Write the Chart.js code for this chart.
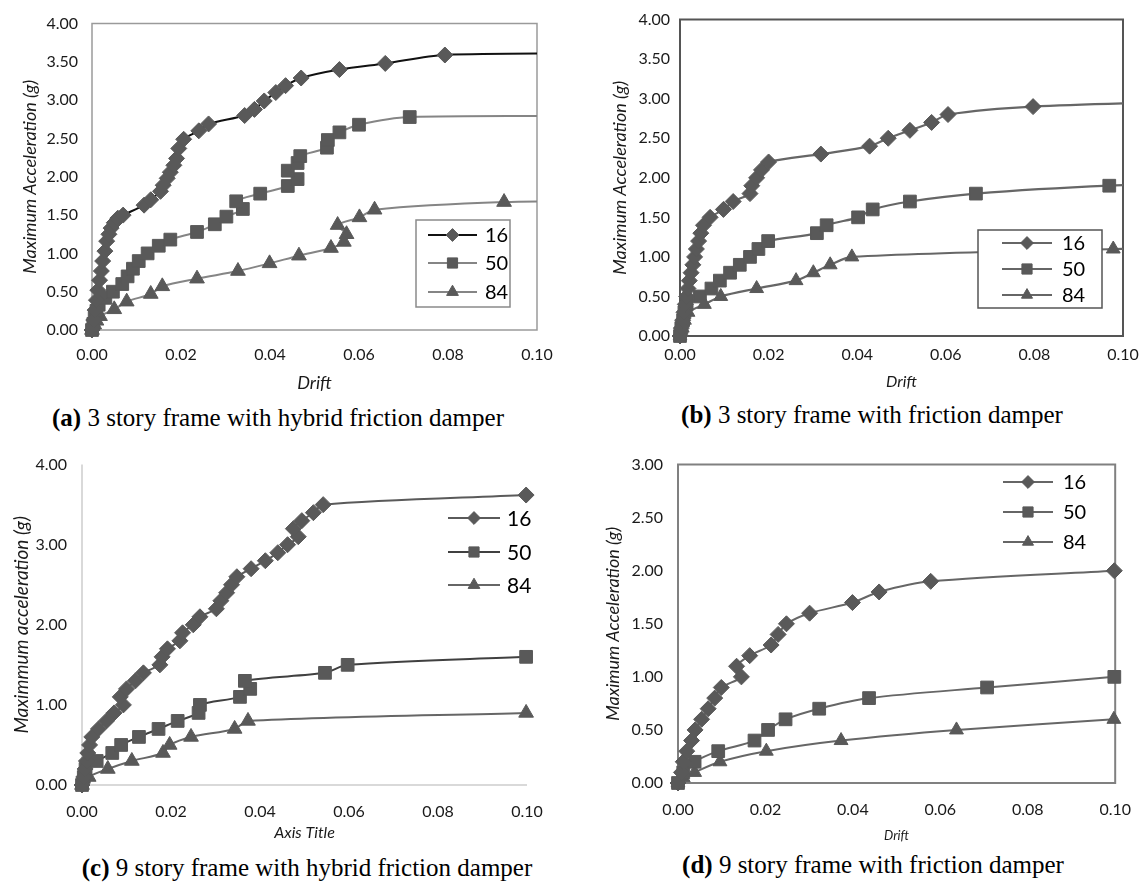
<!DOCTYPE html>
<html>
<head>
<meta charset="utf-8">
<title>Maximum acceleration vs drift</title>
<script src="https://cdn.jsdelivr.net/npm/chart.js@4.4.1/dist/chart.umd.min.js"></script>
<style>
  body { margin: 0; background: #fff; width: 1148px; height: 882px; position: relative; overflow: hidden; }
  canvas { position: absolute; }
  .cap { position: absolute; transform: translate(-50%, -50%); white-space: nowrap;
         font-family: "Liberation Serif", "Times New Roman", serif; font-size: 25px; color: #000; }
</style>
</head>
<body>
<canvas id="ca" width="575" height="398" style="left:0;top:0"></canvas>
<canvas id="cb" width="573" height="398" style="left:575px;top:0"></canvas>
<canvas id="cc" width="575" height="405" style="left:0;top:440px"></canvas>
<canvas id="cd" width="573" height="405" style="left:575px;top:440px"></canvas>

<div class="cap" style="left:278px;top:418px"><b>(a)</b> 3 story frame with hybrid friction damper</div>
<div class="cap" style="left:872px;top:415px"><b>(b)</b> 3 story frame with friction damper</div>
<div class="cap" style="left:307px;top:868px"><b>(c)</b> 9 story frame with hybrid friction damper</div>
<div class="cap" style="left:873px;top:865px"><b>(d)</b> 9 story frame with friction damper</div>

<script>
// series names and tick values
const seriesNames = ['16', '50', '84'];
const driftTicks = [0, 0.02, 0.04, 0.06, 0.08, 0.10];
const accTicks4 = [0, 0.5, 1.0, 1.5, 2.0, 2.5, 3.0, 3.5, 4.0];
const accTicksC = [0, 1, 2, 3, 4];
const accTicks3 = [0, 0.5, 1.0, 1.5, 2.0, 2.5, 3.0];

// (a) 3 story frame with hybrid friction damper
const driftA16 = [0, 0.0004, 0.0007, 0.0010, 0.0013, 0.0017, 0.0021, 0.0024, 0.0029, 0.0033, 0.0038, 0.0043, 0.0050, 0.0058, 0.0070, 0.0117, 0.0132, 0.0154, 0.0160, 0.0169, 0.0176, 0.0184, 0.0190, 0.0195, 0.0206, 0.0240, 0.0262, 0.0343, 0.0365, 0.0387, 0.0413, 0.0435, 0.0470, 0.0556, 0.0659, 0.0793, 0.1200];
const accA16   = [0, 0.13, 0.26, 0.39, 0.52, 0.65, 0.77, 0.90, 1.03, 1.16, 1.25, 1.33, 1.40, 1.46, 1.50, 1.63, 1.70, 1.81, 1.89, 1.98, 2.06, 2.15, 2.24, 2.37, 2.49, 2.60, 2.69, 2.80, 2.88, 2.99, 3.10, 3.19, 3.29, 3.40, 3.48, 3.59, 3.61];
const driftA50 = [0, 0.0003, 0.0006, 0.0010, 0.0015, 0.0030, 0.0047, 0.0068, 0.0080, 0.0092, 0.0105, 0.0125, 0.0150, 0.0176, 0.0236, 0.0276, 0.0302, 0.0339, 0.0324, 0.0378, 0.0440, 0.0462, 0.0440, 0.0462, 0.0468, 0.0528, 0.0530, 0.0556, 0.0600, 0.0714, 0.1200];
const accA50   = [0, 0.08, 0.16, 0.25, 0.33, 0.42, 0.50, 0.60, 0.70, 0.80, 0.90, 1.00, 1.10, 1.18, 1.28, 1.38, 1.48, 1.58, 1.68, 1.78, 1.88, 1.97, 2.08, 2.18, 2.27, 2.38, 2.48, 2.58, 2.68, 2.78, 2.79];
const driftA84 = [0, 0.0005, 0.0010, 0.0018, 0.0050, 0.0078, 0.0132, 0.0158, 0.0236, 0.0328, 0.0399, 0.0465, 0.0537, 0.0566, 0.0572, 0.0552, 0.0601, 0.0635, 0.0926, 0.1200];
const accA84   = [0, 0.07, 0.12, 0.18, 0.27, 0.37, 0.47, 0.57, 0.67, 0.77, 0.87, 0.97, 1.07, 1.15, 1.25, 1.37, 1.47, 1.57, 1.67, 1.68];

// (b) 3 story frame with friction damper
const driftB16 = [0, 0.0003, 0.0006, 0.0009, 0.0012, 0.0015, 0.0018, 0.0021, 0.0025, 0.0029, 0.0033, 0.0037, 0.0042, 0.0047, 0.0053, 0.0068, 0.0098, 0.0120, 0.0158, 0.0162, 0.0173, 0.0184, 0.0200, 0.0318, 0.0428, 0.0470, 0.0519, 0.0568, 0.0605, 0.0797, 0.1200];
const accB16   = [0, 0.1, 0.2, 0.3, 0.4, 0.5, 0.6, 0.7, 0.8, 0.9, 1.0, 1.1, 1.2, 1.3, 1.4, 1.5, 1.6, 1.7, 1.8, 1.9, 2.0, 2.1, 2.2, 2.3, 2.4, 2.5, 2.6, 2.7, 2.8, 2.9, 2.97];
const driftB50 = [0, 0.0003, 0.0007, 0.0010, 0.0015, 0.0045, 0.0071, 0.0090, 0.0113, 0.0135, 0.0158, 0.0177, 0.0199, 0.0309, 0.0331, 0.0402, 0.0435, 0.0519, 0.0668, 0.0969, 0.1200];
const accB50   = [0, 0.1, 0.2, 0.3, 0.4, 0.5, 0.6, 0.7, 0.8, 0.9, 1.0, 1.1, 1.2, 1.3, 1.4, 1.5, 1.6, 1.7, 1.8, 1.9, 1.93];
const driftB84 = [0, 0.0005, 0.0010, 0.0018, 0.0055, 0.0092, 0.0173, 0.0262, 0.0301, 0.0339, 0.0388, 0.0978, 0.1200];
const accB84   = [0, 0.1, 0.2, 0.3, 0.4, 0.5, 0.6, 0.7, 0.8, 0.9, 1.0, 1.1, 1.12];

// (c) 9 story frame with hybrid friction damper
const driftC16 = [0, 0.0004, 0.0007, 0.0010, 0.0013, 0.0017, 0.0022, 0.0037, 0.0055, 0.0072, 0.0093, 0.0086, 0.0100, 0.0120, 0.0138, 0.0175, 0.0180, 0.0192, 0.0220, 0.0226, 0.0250, 0.0265, 0.0302, 0.0312, 0.0325, 0.0336, 0.0348, 0.0380, 0.0412, 0.0440, 0.0462, 0.0486, 0.0475, 0.0494, 0.0520, 0.0542, 0.0998];
const accC16   = [0, 0.1, 0.2, 0.3, 0.4, 0.5, 0.6, 0.7, 0.8, 0.9, 1.0, 1.1, 1.2, 1.3, 1.4, 1.5, 1.6, 1.7, 1.8, 1.9, 2.0, 2.1, 2.2, 2.3, 2.4, 2.5, 2.6, 2.7, 2.8, 2.9, 3.0, 3.1, 3.2, 3.3, 3.4, 3.5, 3.62];
const driftC50 = [0, 0.0004, 0.0008, 0.0033, 0.0068, 0.0088, 0.0128, 0.0172, 0.0215, 0.0262, 0.0265, 0.0355, 0.0378, 0.0366, 0.0546, 0.0597, 0.0998];
const accC50   = [0, 0.1, 0.2, 0.3, 0.4, 0.5, 0.6, 0.7, 0.8, 0.9, 1.0, 1.1, 1.2, 1.3, 1.4, 1.5, 1.6];
const driftC84 = [0, 0.0015, 0.0058, 0.0112, 0.0182, 0.0197, 0.0245, 0.0343, 0.0373, 0.0998];
const accC84   = [0, 0.1, 0.2, 0.3, 0.4, 0.5, 0.6, 0.7, 0.8, 0.9];

// (d) 9 story frame with friction damper
const driftD16 = [0, 0.0008, 0.0012, 0.0020, 0.0031, 0.0039, 0.0054, 0.0069, 0.0084, 0.0099, 0.0145, 0.0134, 0.0164, 0.0213, 0.0229, 0.0248, 0.0301, 0.0399, 0.0460, 0.0578, 0.0998];
const accD16   = [0, 0.1, 0.2, 0.3, 0.4, 0.5, 0.6, 0.7, 0.8, 0.9, 1.0, 1.1, 1.2, 1.3, 1.4, 1.5, 1.6, 1.7, 1.8, 1.9, 2.0];
const driftD50 = [0, 0.0012, 0.0038, 0.0092, 0.0175, 0.0206, 0.0246, 0.0323, 0.0437, 0.0707, 0.0998];
const accD50   = [0, 0.1, 0.2, 0.3, 0.4, 0.5, 0.6, 0.7, 0.8, 0.9, 1.0];
const driftD84 = [0, 0.0012, 0.0038, 0.0096, 0.0202, 0.0373, 0.0637, 0.0997];
const accD84   = [0, 0.05, 0.1, 0.2, 0.3, 0.4, 0.5, 0.6];

const FONT = 'Lato, "Open Sans", "DejaVu Sans", sans-serif';
const TXT = '#1a1a1a';
const MARK = '#595959';
const markers = ['rectRot', 'rect', 'triangle'];

function toPoints(xs, ys) {
  return xs.map((x, i) => ({ x: x, y: ys[i] }));
}

// same shapes as Chart.js point styles, for the legend
function drawMarker(ctx, style, r, x, y) {
  ctx.beginPath();
  if (style === 'rectRot') {
    ctx.moveTo(x, y - r); ctx.lineTo(x + r, y); ctx.lineTo(x, y + r); ctx.lineTo(x - r, y);
  } else if (style === 'rect') {
    const s = r * Math.SQRT1_2;
    ctx.rect(x - s, y - s, 2 * s, 2 * s);
  } else {
    const h = r * Math.sqrt(3) / 2;
    ctx.moveTo(x, y - r); ctx.lineTo(x + h, y + r / 2); ctx.lineTo(x - h, y + r / 2);
  }
  ctx.closePath();
  ctx.fill();
  ctx.stroke();
}

// plot frame (box or just the two axes)
const framePlugin = {
  id: 'frame',
  beforeDatasetsDraw(chart, args, o) {
    const { ctx, chartArea: a } = chart;
    ctx.save();
    ctx.strokeStyle = o.color;
    ctx.lineWidth = o.width;
    ctx.beginPath();
    if (o.box) {
      ctx.rect(a.left, a.top, a.right - a.left, a.bottom - a.top);
    } else {
      ctx.moveTo(a.left, a.top);
      ctx.lineTo(a.left, a.bottom);
      ctx.lineTo(a.right, a.bottom);
    }
    ctx.stroke();
    ctx.restore();
  }
};

// legend with line + marker samples, placed inside the plot
const lineLegend = {
  id: 'lineLegend',
  afterDatasetsDraw(chart, args, o) {
    const ctx = chart.ctx;
    ctx.save();
    if (o.box) {
      ctx.fillStyle = '#fff';
      ctx.fillRect(o.x, o.y, o.w, o.h);
      ctx.strokeStyle = o.boxColor;
      ctx.lineWidth = 1.5;
      ctx.strokeRect(o.x, o.y, o.w, o.h);
    }
    chart.data.datasets.forEach((ds, i) => {
      const y = o.rows[i];
      ctx.strokeStyle = ds.borderColor;
      ctx.lineWidth = ds.borderWidth;
      ctx.beginPath();
      ctx.moveTo(o.lineX, y);
      ctx.lineTo(o.lineX + o.lineLen, y);
      ctx.stroke();
      ctx.fillStyle = MARK;
      ctx.strokeStyle = MARK;
      ctx.lineWidth = 1;
      drawMarker(ctx, ds.pointStyle, ds.pointRadius * 0.8, o.lineX + o.lineLen / 2, y);
      ctx.fillStyle = '#000';
      ctx.font = o.fontSize + 'px ' + FONT;
      ctx.textAlign = 'left';
      ctx.textBaseline = 'middle';
      ctx.fillText(ds.label, o.textX, y + 1);
    });
    ctx.restore();
  }
};

function buildChart(p) {
  const datasets = p.series.map((s, i) => ({
    label: seriesNames[i],
    data: toPoints(s[0], s[1]),
    showLine: true,
    tension: 0.3,
    borderColor: p.lineColors[i],
    borderWidth: p.lineWidth,
    pointStyle: markers[i],
    pointRadius: p.radius[i],
    pointHoverRadius: p.radius[i],
    pointBackgroundColor: MARK,
    pointBorderColor: MARK,
    pointBorderWidth: 1,
    clip: p.clip
  }));

  return new Chart(document.getElementById(p.id), {
    type: 'scatter',
    data: { datasets: datasets },
    options: {
      responsive: false,
      animation: false,
      events: [],
      layout: { padding: { top: p.top, right: p.right, left: 0, bottom: 0 } },
      plugins: {
        legend: { display: false },
        tooltip: { enabled: false },
        frame: p.frame,
        lineLegend: p.legend
      },
      scales: {
        x: {
          type: 'linear', min: 0, max: 0.1,
          afterBuildTicks: s => { s.ticks = driftTicks.map(v => ({ value: v })); },
          ticks: { padding: p.xPad, color: TXT, font: { family: FONT, size: 16 },
                   maxRotation: 0, autoSkip: false, callback: v => v.toFixed(2) },
          grid: { display: false, drawTicks: false },
          border: { display: false },
          title: { display: true, text: p.xTitle, color: TXT,
                   font: { family: FONT, size: p.xTitleSize, style: 'italic' },
                   padding: { top: 0, bottom: p.xTitlePad } },
          afterFit: s => { s.height = p.xH; }
        },
        y: {
          type: 'linear', min: 0, max: p.yMax,
          afterBuildTicks: s => { s.ticks = p.yTicks.map(v => ({ value: v })); },
          ticks: { padding: p.yPad, color: TXT, font: { family: FONT, size: 16 },
                   autoSkip: false, callback: v => v.toFixed(2) },
          grid: { display: false, drawTicks: false },
          border: { display: false },
          title: { display: true, text: p.yTitle, color: TXT,
                   font: { family: FONT, size: p.yTitleSize, style: 'italic' },
                   padding: { top: p.yTitlePad, bottom: 0 } },
          afterFit: s => { s.width = p.yW; }
        }
      }
    },
    plugins: [framePlugin, lineLegend]
  });
}

const cutRight = { left: false, top: false, right: 0, bottom: false };

buildChart({
  id: 'ca',
  series: [[driftA16, accA16], [driftA50, accA50], [driftA84, accA84]],
  lineColors: ['#111111', '#858585', '#858585'], lineWidth: 2, radius: [8, 9, 8.5],
  clip: cutRight,
  top: 20, right: 38, yW: 92, xH: 68, xPad: 15, yPad: 14,
  yMax: 4, yTicks: accTicks4,
  yTitle: 'Maximum Acceleration (g)', yTitleSize: 18, yTitlePad: 19,
  xTitle: 'Drift', xTitleSize: 18, xTitlePad: 4,
  frame: { box: true, color: '#9a9a9a', width: 1.5 },
  legend: { box: true, boxColor: '#8a8a8a', x: 416, y: 220, w: 94, h: 87,
            rows: [235, 263, 292], lineX: 428, lineLen: 49, textX: 485, fontSize: 20 }
});

buildChart({
  id: 'cb',
  series: [[driftB16, accB16], [driftB50, accB50], [driftB84, accB84]],
  lineColors: ['#666666', '#666666', '#666666'], lineWidth: 2.2, radius: [8, 9, 8],
  clip: cutRight,
  top: 11, right: 25, yW: 105, xH: 62, xPad: 9, yPad: 10,
  yMax: 4, yTicks: accTicks4,
  yTitle: 'Maximum Acceleration (g)', yTitleSize: 18, yTitlePad: 34,
  xTitle: 'Drift', xTitleSize: 16, xTitlePad: 7,
  frame: { box: true, color: '#555555', width: 2 },
  legend: { box: true, boxColor: '#555555', x: 403, y: 230, w: 124, h: 78,
            rows: [243, 269, 295], lineX: 427, lineLen: 50, textX: 487, fontSize: 20 }
});

buildChart({
  id: 'cc',
  series: [[driftC16, accC16], [driftC50, accC50], [driftC84, accC84]],
  lineColors: ['#5a5a5a', '#404040', '#666666'], lineWidth: 2, radius: [8, 9, 8.5],
  clip: false,
  top: 15, right: 48, yW: 82, xH: 60, xPad: 17, yPad: 15,
  yMax: 4, yTicks: accTicksC,
  yTitle: 'Maximmum acceleration (g)', yTitleSize: 19, yTitlePad: 10,
  xTitle: 'Axis Title', xTitleSize: 16, xTitlePad: 3,
  frame: { box: false, color: '#d9d9d9', width: 2 },
  legend: { box: false, rows: [78, 112, 145], lineX: 448, lineLen: 52, textX: 507, fontSize: 21 }
});

buildChart({
  id: 'cd',
  series: [[driftD16, accD16], [driftD50, accD50], [driftD84, accD84]],
  lineColors: ['#666666', '#666666', '#666666'], lineWidth: 2, radius: [8, 9, 8],
  clip: false,
  top: 15, right: 31, yW: 103, xH: 62, xPad: 17, yPad: 15,
  yMax: 3, yTicks: accTicks3,
  yTitle: 'Maximum Acceleration (g)', yTitleSize: 18, yTitlePad: 27,
  xTitle: 'Drift', xTitleSize: 13, xTitlePad: 1,
  frame: { box: true, color: '#808080', width: 2 },
  legend: { box: false, rows: [42, 72, 102], lineX: 428, lineLen: 50, textX: 488, fontSize: 20 }
});
</script>
</body>
</html>
